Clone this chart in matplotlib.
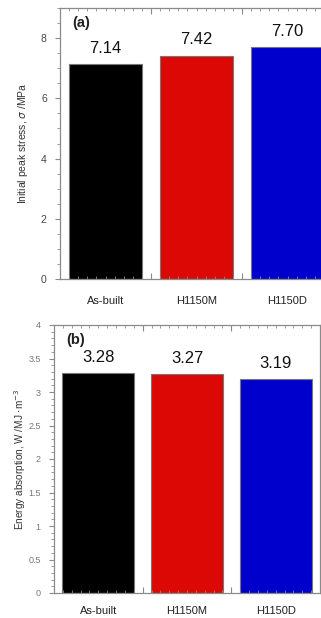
import numpy as np
import matplotlib
matplotlib.use('Agg')
import matplotlib.pyplot as plt
from matplotlib.ticker import MultipleLocator, FormatStrFormatter

# data
categories = ['As-built', 'H1150M', 'H1150D']
stress = [7.14, 7.42, 7.70]
energy = [3.28, 3.27, 3.19]
barColors = ['#000000', '#dc0805', '#0000cc']

plt.rcParams['font.family'] = ['Liberation Sans', 'DejaVu Sans']

fig = plt.figure(figsize=(3.21, 6.18), dpi=100)
axA = fig.add_axes([60/321, 1 - 279/618, 273/321, 271/618])
axB = fig.add_axes([54/321, 1 - 593/618, 266/321, 268/618])

spineColor = '#8a8a8a'
x = np.arange(len(categories))

def style_axes(ax, ymax, major, minor, labelColor, labelSize, catOffset):
    ax.set_xlim(-0.5, 2.5)
    ax.set_ylim(0, ymax)
    for s in ax.spines.values():
        s.set_color(spineColor)
        s.set_linewidth(0.9)
    ax.set_xticks([0.5, 1.5], minor=False)
    ax.xaxis.set_minor_locator(MultipleLocator(0.1))
    ax.yaxis.set_major_locator(MultipleLocator(major))
    ax.yaxis.set_minor_locator(MultipleLocator(minor))
    ax.yaxis.set_major_formatter(FormatStrFormatter('%g'))
    ax.tick_params(axis='x', which='both', direction='in', top=True, bottom=True,
                   labelbottom=False, color=spineColor)
    ax.tick_params(axis='x', which='major', length=4)
    ax.tick_params(axis='x', which='minor', length=2.5)
    ax.tick_params(axis='y', which='both', direction='out', right=True, color=spineColor,
                   labelsize=labelSize, labelcolor=labelColor, pad=6)
    ax.tick_params(axis='y', which='major', length=3.5)
    ax.tick_params(axis='y', which='minor', length=2)
    for i, c in enumerate(categories):
        ax.annotate(c, (x[i], 0), xytext=(0, -catOffset), textcoords='offset points',
                    ha='center', va='center', fontsize=8, color='#222222')

# panel (a)
axA.bar(x, stress, width=0.8, color=barColors, edgecolor='#777777', linewidth=0.8)
style_axes(axA, 9, 2, 0.5, '#444444', 7.5, 16)
for i, v in enumerate(stress):
    axA.annotate('%.2f' % v, (x[i], v), xytext=(0, 6), textcoords='offset points',
                 ha='center', va='bottom', fontsize=12, color='#111111')
axA.text(0.045, 0.97, '(a)', transform=axA.transAxes, fontsize=10.5, fontweight='bold',
         ha='left', va='top', color='#222222')
axA.set_ylabel(r'Initial peak stress, $\sigma$ /MPa', fontsize=7.5, color='#333333')
axA.yaxis.set_label_coords(-0.110, 0.5)

# panel (b)
axB.bar(x, energy, width=0.81, color=barColors, edgecolor='#777777', linewidth=0.8)
style_axes(axB, 4, 0.5, 0.1, '#777777', 6.5, 13)
for i, v in enumerate(energy):
    axB.annotate('%.2f' % v, (x[i], v), xytext=(0, 6), textcoords='offset points',
                 ha='center', va='bottom', fontsize=12, color='#111111')
axB.text(0.045, 0.97, '(b)', transform=axB.transAxes, fontsize=10.5, fontweight='bold',
         ha='left', va='top', color='#222222')
axB.set_ylabel(r'Energy absorption, W /MJ $\cdot$m$^{-3}$', fontsize=7.2, color='#333333')
axB.yaxis.set_label_coords(-0.097, 0.5)

fig.savefig('out.png', dpi=100)
